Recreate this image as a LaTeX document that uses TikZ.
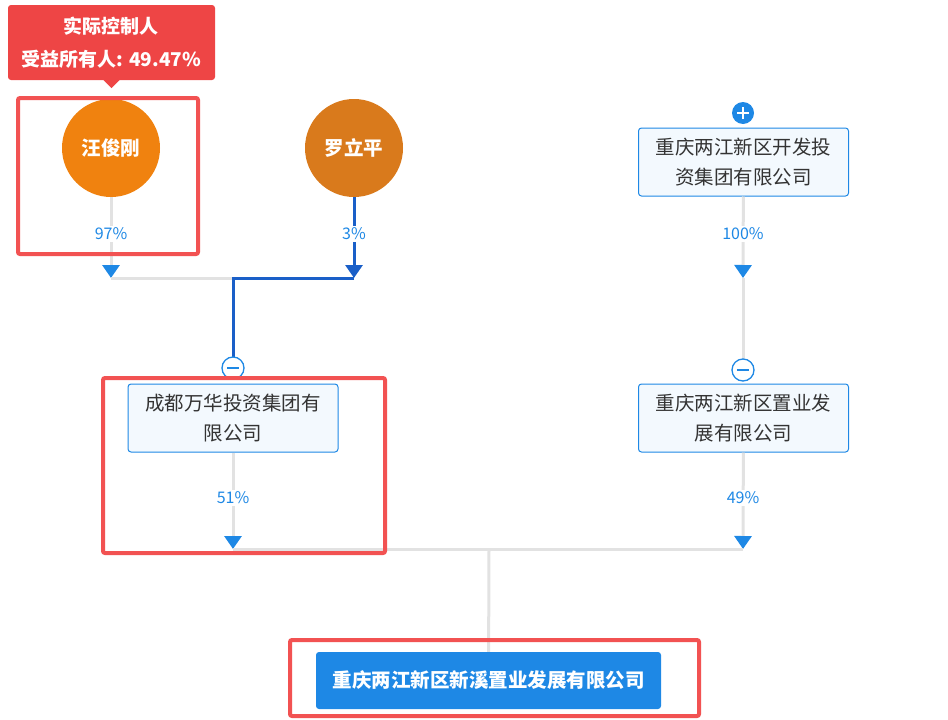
\documentclass[tikz,border=0pt]{standalone}
\usepackage{fontspec}
\setmainfont{Noto Sans CJK SC}
\usetikzlibrary{arrows.meta}

\definecolor{hlred}{HTML}{F25252}
\definecolor{tipred}{HTML}{EE4545}
\definecolor{orangeA}{HTML}{F0820F}
\definecolor{orangeB}{HTML}{D97A1C}
\definecolor{qblue}{HTML}{1E88E5}
\definecolor{darkblue}{HTML}{1A5FC8}
\definecolor{linegray}{HTML}{E2E2E2}
\definecolor{boxfill}{HTML}{F3F9FE}
\definecolor{txtgray}{HTML}{333333}

\begin{document}
\begin{tikzpicture}[x=1pt, y=-1pt,
    person/.style={circle, minimum size=98pt, inner sep=0pt, text=white, font=\fontsize{19.5}{21}\selectfont\bfseries},
    company/.style={draw=qblue, line width=1pt, fill=boxfill, rounded corners=3pt, minimum width=210pt, minimum height=68pt, align=center, text=txtgray, font=\fontsize{19.5}{30}\selectfont},
    link/.style={linegray, line width=3pt},
    bluelink/.style={darkblue, line width=3pt},
    tipdown/.style={-{Triangle[width=17pt, length=13pt, color=qblue]}},
    pct/.style={fill=white, text=qblue, inner sep=2pt, font=\fontsize{16}{18}\selectfont},
    btn/.style={circle, minimum size=22pt, inner sep=0pt, line width=1.3pt},
    highlight/.style={hlred, line width=4pt, rounded corners=2pt},
]
\useasboundingbox (0,0) rectangle (948,720);

% shareholders
\node[person, fill=orangeA] (wang) at (111,148) {汪俊刚};
\node[person, fill=orangeB] (luo) at (354,148) {罗立平};
\node[company] (kaifa) at (743.5,162) {重庆两江新区开发投\\资集团有限公司};
\node[btn, fill=qblue] (plus) at (743,113) {};
\draw[white, line width=1.6pt] ([xshift=-6pt]plus.center) -- ([xshift=6pt]plus.center)
    ([yshift=-6pt]plus.center) -- ([yshift=6pt]plus.center);

% middle layer
\node[company] (chengdu) at (233,418) {成都万华投资集团有\\限公司};
\node[company] (zhiye) at (743.5,418) {重庆两江新区置业发\\展有限公司};

% target company
\node[fill=qblue, rounded corners=3pt, minimum width=345pt, minimum height=57pt, text=white,
    font=\fontsize{19.5}{21}\selectfont\bfseries] (target) at (488.5,680.5) {重庆两江新区新溪置业发展有限公司};

% junction points
\coordinate (tipWang) at (111,278);
\coordinate (tipLuo) at (354,278);
\coordinate (tipKaifa) at (743,278);
\coordinate (joinTop) at (233,278);
\coordinate (tipChengdu) at (233,549);
\coordinate (tipZhiye) at (743,549);
\coordinate (joinBottom) at (489,550);
\coordinate (minusA) at (233,368);
\coordinate (minusB) at (743,370);

% connectors
\draw[link, tipdown] (wang) -- (tipWang);
\draw[link] (tipWang) -- (joinTop);
\draw[bluelink, -{Triangle[width=17pt, length=13pt, color=darkblue]}] (luo) -- (tipLuo);
\draw[bluelink] (tipLuo) -| (minusA);
\draw[link, tipdown] (kaifa) -- (tipKaifa);
\draw[link] (tipKaifa) -- (minusB);
\draw[link, tipdown] (chengdu) -- (tipChengdu);
\draw[link, tipdown] (zhiye) -- (tipZhiye);
\draw[link] (tipChengdu) -- (tipZhiye);
\draw[link] (joinBottom) -- (target);

% collapse buttons on top of the lines
\node[btn, draw=qblue, fill=white] (btnA) at (minusA) {};
\node[btn, draw=qblue, fill=white] (btnB) at (minusB) {};
\draw[qblue, line width=1.6pt] ([xshift=-6pt]btnA.center) -- ([xshift=6pt]btnA.center);
\draw[qblue, line width=1.6pt] ([xshift=-6pt]btnB.center) -- ([xshift=6pt]btnB.center);

% share labels
\node[pct] (pWang) at (111,234) {97\%};
\node[pct] (pLuo) at (354,234) {3\%};
\node[pct] (pKaifa) at (743,234) {100\%};
\node[pct] (pChengdu) at (233,498) {51\%};
\node[pct] (pZhiye) at (743,498) {49\%};

% controller tooltip
\node[fill=tipred, rounded corners=3pt, minimum width=207pt, minimum height=75pt, align=center,
    text=white, font=\fontsize{19}{33}\selectfont\bfseries] (tip) at (111.5,42.5) {实际控制人\\受益所有人: 49.47\%};
\fill[tipred] ([xshift=-8pt]tip.south) -- ([yshift=-8pt]tip.south) -- ([xshift=8pt]tip.south) -- cycle;

% highlight frames
\draw[highlight] (18,98) rectangle (198,254);
\draw[highlight] (103,378) rectangle (385,553);
\draw[highlight] (290,640) rectangle (699,716);
\end{tikzpicture}
\end{document}
